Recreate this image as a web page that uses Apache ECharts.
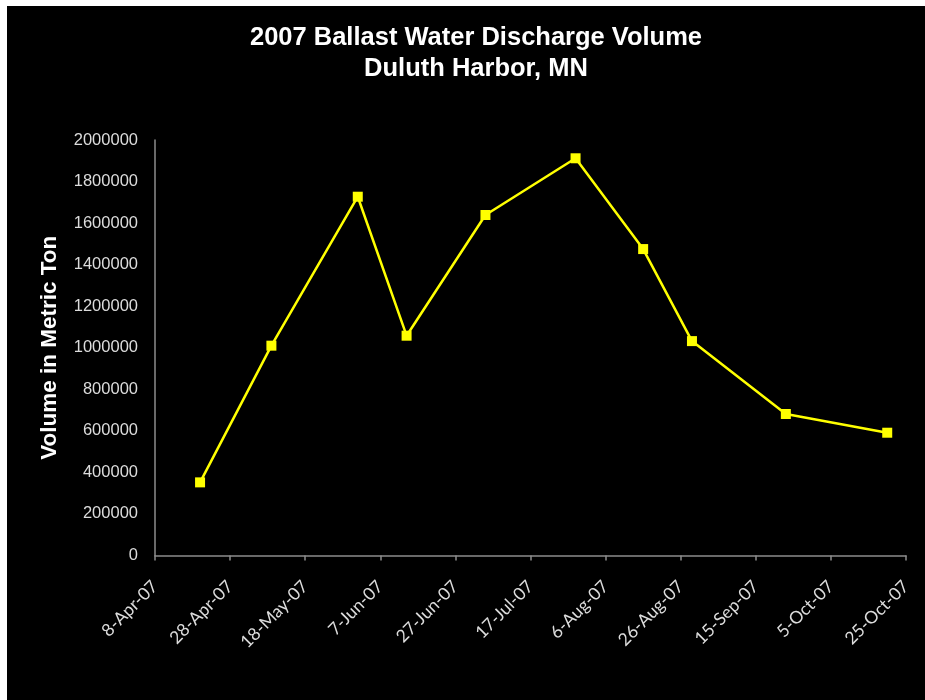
<!DOCTYPE html>
<html>
<head>
<meta charset="utf-8">
<script src="https://cdn.jsdelivr.net/npm/echarts@6/dist/echarts.min.js"></script>
<style>
  html, body { margin: 0; padding: 0; background: #ffffff; }
  #chart { width: 925px; height: 700px; }
</style>
</head>
<body>
<div id="chart"></div>
<script>
// Survey dates and discharged ballast volume (metric tons), Duluth Harbor 2007
const sampleDates = ['2007-04-20', '2007-05-09', '2007-06-01', '2007-06-14', '2007-07-05',
                     '2007-07-29', '2007-08-16', '2007-08-29', '2007-09-23', '2007-10-20'];
const volumes = [352000, 1010000, 1727000, 1058000, 1639000,
                 1912000, 1475000, 1032000, 681000, 591000];

// Date axis: starts 8-Apr-07, one tick every 20 days
const axisStart = '2007-04-08';
const tickLabels = ['8-Apr-07', '28-Apr-07', '18-May-07', '7-Jun-07', '27-Jun-07', '17-Jul-07',
                    '6-Aug-07', '26-Aug-07', '15-Sep-07', '5-Oct-07', '25-Oct-07'];
const tickStepDays = 20;

const yTicks = [0, 200000, 400000, 600000, 800000, 1000000, 1200000, 1400000, 1600000, 1800000, 2000000];

const DAY = 86400000;
const t0 = Date.parse(axisStart + 'T00:00:00Z');
const dayOffset = s => Math.round((Date.parse(s + 'T00:00:00Z') - t0) / DAY);
const points = sampleDates.map((d, i) => [dayOffset(d), volumes[i]]);

const chart = echarts.init(document.getElementById('chart'));
chart.setOption({
  backgroundColor: '#ffffff',
  animation: false,
  graphic: [{
    type: 'rect',
    z: -10,
    silent: true,
    shape: { x: 7, y: 6, width: 918, height: 694 },
    style: { fill: '#000000' }
  }],
  title: {
    text: '2007 Ballast Water Discharge Volume\nDuluth Harbor, MN',
    left: 471,
    top: 17,
    textAlign: 'center',
    textStyle: {
      color: '#ffffff',
      fontFamily: 'Liberation Sans, Arial, sans-serif',
      fontWeight: 'bold',
      fontSize: 25.5,
      lineHeight: 31
    }
  },
  grid: { left: 155, right: 19, top: 140, bottom: 144.5, containLabel: false },
  xAxis: {
    type: 'value',
    min: 0,
    max: (tickLabels.length - 1) * tickStepDays,
    interval: tickStepDays,
    splitLine: { show: false },
    axisLine: { show: true, lineStyle: { color: '#8c8c8c', width: 1.5 } },
    axisTick: { show: true, length: 5, lineStyle: { color: '#8c8c8c', width: 1.5 } },
    axisLabel: {
      rotate: 45,
      margin: 28,
      color: '#dcdcdc',
      fontFamily: 'Lato, Open Sans, sans-serif',
      fontSize: 17.5,
      formatter: v => tickLabels[Math.round(v / tickStepDays)] || ''
    }
  },
  yAxis: {
    type: 'value',
    min: yTicks[0],
    max: yTicks[yTicks.length - 1],
    interval: yTicks[1] - yTicks[0],
    name: 'Volume in Metric Ton',
    nameLocation: 'middle',
    nameGap: 94,
    nameTextStyle: {
      color: '#ffffff',
      fontFamily: 'Liberation Sans, Arial, sans-serif',
      fontWeight: 'bold',
      fontSize: 22.5
    },
    splitLine: { show: false },
    axisLine: { show: true, lineStyle: { color: '#8c8c8c', width: 1.5 } },
    axisTick: { show: false },
    axisLabel: {
      margin: 17,
      color: '#dcdcdc',
      fontFamily: 'Liberation Sans, Arial, sans-serif',
      fontSize: 16.5,
      formatter: v => String(v)
    }
  },
  series: [{
    type: 'line',
    data: points,
    symbol: 'rect',
    symbolSize: 10,
    itemStyle: { color: '#ffff00' },
    lineStyle: { color: '#ffff00', width: 2.5 }
  }]
});
</script>
</body>
</html>
